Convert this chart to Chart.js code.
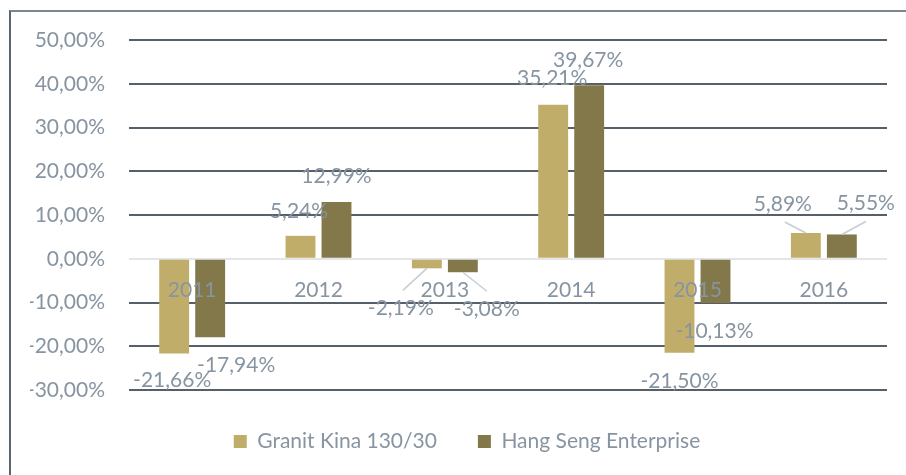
<!DOCTYPE html>
<html><head><meta charset="utf-8">
<script src="https://cdn.jsdelivr.net/npm/chart.js@4/dist/chart.umd.min.js"></script>
<style>
html,body{margin:0;padding:0;background:#fff;width:906px;height:475px;overflow:hidden}
#frame{position:absolute;left:9px;top:10px;width:1000px;height:1000px;border-left:2px solid #5b6570;border-top:2px solid #7d8790;box-sizing:border-box}
#c{position:absolute;left:0;top:0}
</style></head><body>
<div id="frame"></div>
<canvas id="c" width="906" height="475"></canvas>
<script>
// ---- data ----
const categories = ['2011', '2012', '2013', '2014', '2015', '2016'];
const granitKina = [-21.66, 5.24, -2.19, 35.21, -21.50, 5.89];
const hangSeng = [-17.94, 12.99, -3.08, 39.67, -10.13, 5.55];
const seriesNames = ['Granit Kina 130/30', 'Hang Seng Enterprise'];
const yMin = -30, yMax = 50, yStep = 10;

// ---- label placement (offset of label centre from bar end, px) ----
const labelOffsets = [
  [[-2, 27], [-1.5, -25], [-26, 40], [-1, -26], [0, 28], [-23, -29]],
  [[26, 28], [0, -26], [24, 37], [-1, -25], [-1, 28], [24, -31]]
];
const leaderLines = [
  [false, false, true, false, false, true],
  [false, false, true, false, false, true]
];

const TEXT = '#8794a1';
const FONT = 'Lato';
const FSIZE = 21;
const fmt = v => v.toFixed(2).replace('.', ',') + '%';

const labelPlugin = {
  id: 'barLabels',
  afterDatasetsDraw(chart) {
    const ctx = chart.ctx;
    ctx.save();
    ctx.font = FSIZE + 'px ' + FONT;
    ctx.textAlign = 'center';
    ctx.textBaseline = 'middle';
    chart.data.datasets.forEach((ds, di) => {
      const meta = chart.getDatasetMeta(di);
      meta.data.forEach((bar, i) => {
        const off = labelOffsets[di][i];
        const lx = bar.x + off[0], ly = bar.y + off[1];
        if (leaderLines[di][i]) {
          const dir = off[1] > 0 ? -1 : 1;
          ctx.strokeStyle = '#c6cdd4';
          ctx.lineWidth = 1.5;
          ctx.beginPath();
          ctx.moveTo(bar.x, bar.y);
          ctx.lineTo(lx + (off[0] < 0 ? 2 : 0), ly + dir * 18);
          ctx.stroke();
        }
        ctx.fillStyle = TEXT;
        ctx.fillText(fmt(ds.data[i]), lx, ly);
      });
    });
    ctx.restore();
  }
};

new Chart(document.getElementById('c'), {
  type: 'bar',
  data: {
    labels: categories,
    datasets: [
      { label: seriesNames[0], data: granitKina, backgroundColor: '#c0ad6a' },
      { label: seriesNames[1], data: hangSeng, backgroundColor: '#83784a' }
    ]
  },
  options: {
    responsive: false,
    animation: false,
    devicePixelRatio: 1,
    categoryPercentage: 0.57,
    barPercentage: 0.83,
    layout: { padding: { left: 30, right: 2, top: 40, bottom: 13 } },
    plugins: {
      tooltip: { enabled: false },
      legend: {
        position: 'bottom',
        labels: {
          boxWidth: 13, boxHeight: 13, padding: 41,
          color: TEXT, font: { family: FONT, size: FSIZE }
        }
      }
    },
    scales: {
      x: {
        position: { y: 0 },
        grid: { display: false, drawTicks: false },
        border: { display: false },
        ticks: { color: TEXT, font: { family: FONT, size: FSIZE }, padding: 19, z: 1, maxRotation: 0 }
      },
      y: {
        min: yMin, max: yMax,
        afterFit(scale) { scale.width = 99; },
        border: { display: false },
        grid: {
          drawTicks: false,
          lineWidth: 2,
          color: ctx => ctx.tick && ctx.tick.value === 0 ? '#e3e5e7' : '#56606b'
        },
        ticks: {
          stepSize: yStep, padding: 24, color: TEXT,
          font: { family: FONT, size: FSIZE },
          callback: v => fmt(v)
        }
      },
      yRightSpace: {
        position: 'right',
        display: true,
        afterFit(scale) { scale.width = 17; },
        grid: { display: false, drawTicks: false },
        border: { display: false },
        ticks: { display: false }
      }
    }
  },
  plugins: [labelPlugin]
});
</script>
</body></html>
